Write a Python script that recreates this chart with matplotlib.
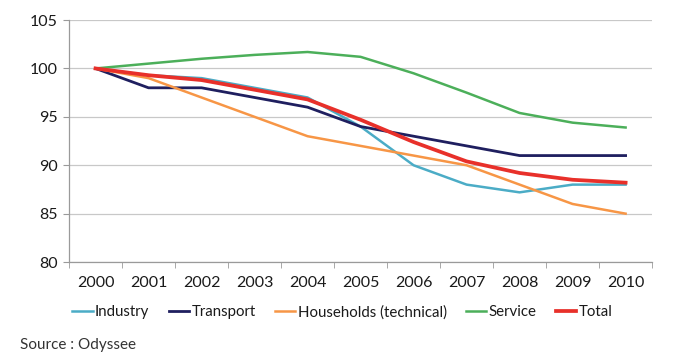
import matplotlib
matplotlib.use("Agg")
import matplotlib.pyplot as plt
import numpy as np

years = ["2000", "2001", "2002", "2003", "2004", "2005", "2006", "2007", "2008", "2009", "2010"]
industry = [100, 99.3, 99.0, 98.0, 97.0, 94.0, 90.0, 88.0, 87.2, 88.0, 88.0]
transport = [100, 98.0, 98.0, 97.0, 96.0, 94.0, 93.0, 92.0, 91.0, 91.0, 91.0]
households = [100, 99.0, 97.0, 95.0, 93.0, 92.0, 91.0, 90.0, 88.0, 86.0, 85.0]
service = [100, 100.5, 101.0, 101.4, 101.7, 101.2, 99.5, 97.5, 95.4, 94.4, 93.9]
total = [100, 99.3, 98.8, 97.8, 96.8, 94.7, 92.4, 90.4, 89.2, 88.5, 88.2]

plt.rcParams['font.family'] = ['Lato', 'DejaVu Sans']
plt.rcParams['text.color'] = '#1a1a1a'

fig = plt.figure(figsize=(6.78, 3.58), dpi=100)
ax = fig.add_axes([0.1018, 0.268, 0.86, 0.676])

x = np.arange(len(years))
ax.plot(x, industry, color="#4BACC6", lw=1.8, label="Industry")
ax.plot(x, transport, color="#1F1F5F", lw=2.0, label="Transport")
ax.plot(x, households, color="#F79646", lw=1.8, label="Households (technical)")
ax.plot(x, service, color="#4CAF5A", lw=1.8, label="Service")
ax.plot(x, total, color="#E8302A", lw=2.7, label="Total")

ax.set_xlim(-0.5, len(years) - 0.5)
ax.set_ylim(80, 105)
ax.set_yticks([80, 85, 90, 95, 100, 105])
ax.set_xticks(x)
ax.set_xticklabels(years)
ax.set_xticks(np.arange(-0.5, len(years), 1), minor=True)
ax.tick_params(axis='x', which='major', length=0, pad=10, labelsize=11.5, labelcolor='#1a1a1a')
ax.tick_params(axis='x', which='minor', length=4, color="#9a9a9a")
ax.tick_params(axis='y', length=4, color="#9a9a9a", labelsize=11.5, pad=4, labelcolor='#1a1a1a')
ax.grid(axis='y', color="#c8c8c8", lw=0.9)
ax.set_axisbelow(True)
for s in ['top', 'right']:
    ax.spines[s].set_visible(False)
for s in ['left', 'bottom']:
    ax.spines[s].set_color("#9a9a9a")
    ax.spines[s].set_linewidth(0.9)

leg = fig.legend(loc='center', bbox_to_anchor=(0.505, 0.128), ncol=5, frameon=False,
                 fontsize=10.8, handlelength=1.35, handletextpad=0.15, columnspacing=1.3)
fig.text(0.03, 0.025, "Source : Odyssee", fontsize=11, color="#333333")

fig.savefig("out.png", dpi=100)
